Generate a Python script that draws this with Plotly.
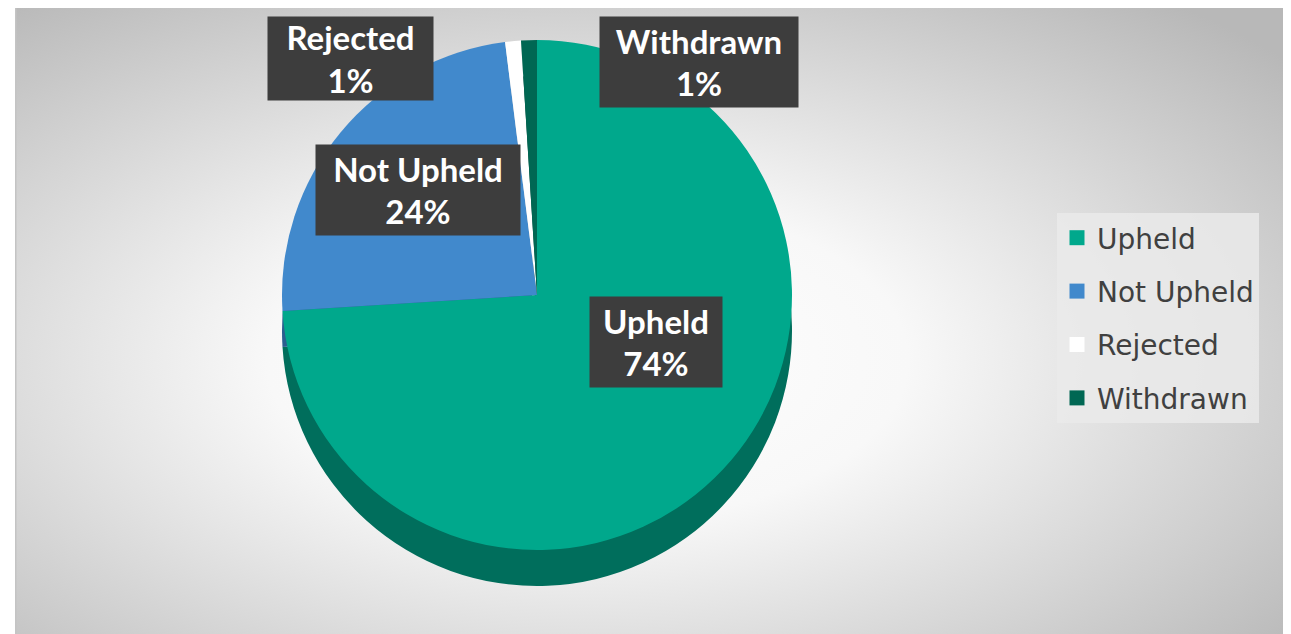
import base64
import plotly.graph_objects as go

# outcome data (share of cases, %)
labels = ["Upheld", "Not Upheld", "Rejected", "Withdrawn"]
values = [74, 24, 1, 1]
top_colors = ["#00a88c", "#4189cc", "#ffffff", "#006753"]
side_colors = ["#006e5c", "#2b5f8f", "#c8c8c8", "#004538"]

W, H = 1291, 634

# radial grey background as an inline svg
svg = """<svg xmlns='http://www.w3.org/2000/svg' width='1272' height='645' viewBox='0 0 1272 645' preserveAspectRatio='none'>
<defs><radialGradient id='g' cx='0.45' cy='0.55' r='0.72' fx='0.45' fy='0.55'>
<stop offset='0' stop-color='#ffffff'/><stop offset='0.35' stop-color='#f8f8f8'/>
<stop offset='1' stop-color='#b8b8b8'/></radialGradient></defs>
<rect width='1272' height='645' fill='url(#g)' stroke='#c4c4c4' stroke-width='3'/></svg>"""
bg = "data:image/svg+xml;base64," + base64.b64encode(svg.encode()).decode()

cx = 529
diam = 510
top = 32
depth = 36


def ydom(t):
    return [1 - (t + diam) / H, 1 - t / H]


xdom = [(cx - diam / 2) / W, (cx + diam / 2) / W]

fig = go.Figure()
# side of the "3d" pie: same data, darker, shifted down
fig.add_trace(go.Pie(
    labels=labels, values=values, sort=False, direction="clockwise", rotation=0,
    marker=dict(colors=side_colors, line=dict(width=0)),
    textinfo="none", hoverinfo="skip", showlegend=False,
    domain=dict(x=xdom, y=ydom(top + depth)),
))
fig.add_trace(go.Pie(
    labels=labels, values=values, sort=False, direction="clockwise", rotation=0,
    marker=dict(colors=top_colors, line=dict(width=0)),
    textinfo="none", hoverinfo="label+percent", showlegend=False,
    domain=dict(x=xdom, y=ydom(top)),
))

# legend entries (squares), spaced like the original
for lab, col in zip(labels, top_colors):
    fig.add_trace(go.Scatter(
        x=[None], y=[None], mode="markers", name=lab, legendgroup=lab,
        marker=dict(symbol="square", size=15, color=col, line=dict(width=0)),
    ))

# data labels in dark boxes: center x, center y, box w, box h
label_box = {
    "Upheld": (648, 334, 132, 90),
    "Not Upheld": (410, 182, 204, 90),
    "Rejected": (342, 51, 165, 83),
    "Withdrawn": (691, 54, 198, 90),
}
total = sum(values)
for lab, val in zip(labels, values):
    bx, by, bw, bh = label_box[lab]
    fig.add_annotation(
        x=bx / W, y=1 - by / H, xref="paper", yref="paper",
        xanchor="center", yanchor="middle",
        text=f"<b>{lab}<br>{round(val / total * 100)}%</b>",
        showarrow=False, align="center", valign="middle",
        width=bw, height=bh, borderpad=0,
        font=dict(family="Lato", size=33, color="#ffffff"),
        bgcolor="#3d3d3d",
    )

fig.update_layout(
    width=W, height=H,
    margin=dict(l=0, r=0, t=0, b=0),
    paper_bgcolor="#ffffff",
    plot_bgcolor="rgba(0,0,0,0)",
    xaxis=dict(visible=False),
    yaxis=dict(visible=False),
    images=[dict(source=bg, xref="paper", yref="paper", x=7 / W, y=1 + 3 / H,
                 sizex=1272 / W, sizey=645 / H, sizing="stretch", layer="below",
                 xanchor="left", yanchor="top")],
    legend=dict(
        x=1049 / W, y=1 - 205 / H, xanchor="left", yanchor="top",
        bgcolor="rgba(234,234,234,0.85)",
        font=dict(family="DejaVu Sans", size=28, color="#404040"),
        tracegroupgap=14, itemwidth=30,
    ),
)

fig.write_html("out.html")
